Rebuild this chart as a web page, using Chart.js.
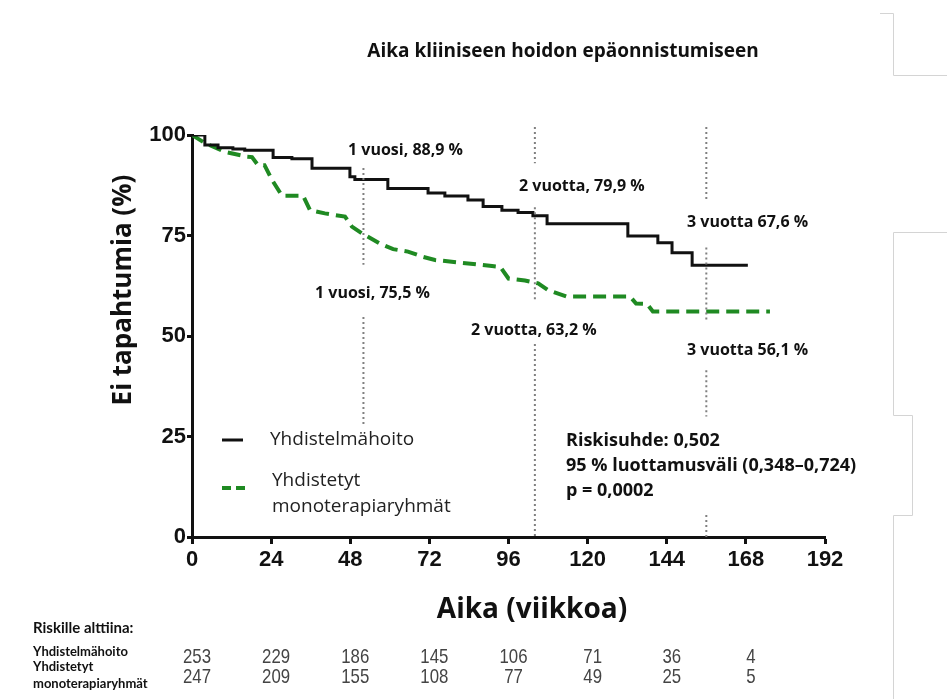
<!DOCTYPE html>
<html>
<head>
<meta charset="utf-8">
<script src="https://cdn.jsdelivr.net/npm/chart.js@4"></script>
<style>
  body { margin: 0; background: #fff; }
  canvas { display: block; }
</style>
</head>
<body>
<canvas id="c" width="947" height="699"></canvas>
<script>
// Kaplan-Meier data (weeks, % without event)
const comboWeeks = [0, 3.9, 7.9, 12.4, 16, 24.6, 30.3, 36.4, 47.9, 49.4, 59.4, 71.6, 76.7, 83.7, 88.3, 94, 98.9, 103.4, 107.7, 132.2, 141.3, 145.6, 151.7, 168.6]
const comboSurv  = [100, 97.5, 96.8, 96.5, 96.2, 94.4, 94.1, 91.7, 89.6, 88.9, 86.7, 85.6, 84.8, 83.8, 82.2, 81.3, 80.7, 79.9, 77.9, 74.9, 73.2, 70.7, 67.6, 67.6]

const monoWeeks = [0, 3.9, 10, 16.7, 18.2, 20, 22, 24.3, 27.3, 33.7, 35.8, 40.3, 46.4, 48.5, 52, 57, 61, 65.5, 70, 73.7, 82, 91, 93.5, 96, 101, 105, 108, 113.7, 132.9, 134.7, 138, 139.8, 175.3]
const monoSurv  = [100, 98, 95.8, 94.6, 94.5, 92.5, 92.5, 88.8, 84.9, 84.9, 81.3, 80.5, 79.7, 77.2, 75.3, 73, 71.6, 71, 69.7, 68.9, 68.2, 67.4, 67.2, 64.3, 63.8, 63.1, 61.4, 59.8, 59.8, 58.1, 58, 56.1, 56.1]

const xTicks = [0, 24, 48, 72, 96, 120, 144, 168, 192]
const yTicks = [0, 25, 50, 75, 100]

// dotted year markers: [week, from %, to %]
const markers = [
  [52, 91.8, 67.7], [52, 54.7, 28],
  [104, 102, 93], [104, 82, 59], [104, 48, 0],
  [156, 102, 84], [156, 72, 54], [156, 41.5, 30], [156, 5.5, 0]
]

// number at risk
const riskWeeks = [0, 24, 48, 72, 96, 120, 144, 168]
const riskCombo = [253, 229, 186, 145, 106, 71, 36, 4]
const riskMono  = [247, 209, 155, 108, 77, 49, 25, 5]

const toPts = (xs, ys) => xs.map((x, i) => ({x: x, y: ys[i]}))

const OS = '"Open Sans", Lato, sans-serif'
const CAL = 'Lato, "Open Sans", sans-serif'
const ARIAL = '"Liberation Sans", Arial, sans-serif'
const GREEN = '#1f8a22'

function txt(ctx, s, x, y, font, color, align, base) {
  ctx.font = font
  ctx.fillStyle = color || '#111'
  ctx.textAlign = align || 'left'
  ctx.textBaseline = base || 'middle'
  ctx.fillText(s, x, y)
}

// condensed text (for Arial Narrow look)
function txtNarrow(ctx, s, x, y, font, color, sx) {
  ctx.save()
  ctx.translate(x, y)
  ctx.scale(sx, 1)
  txt(ctx, s, 0, 0, font, color, 'center')
  ctx.restore()
}

const extras = {
  id: 'extras',
  afterDraw(chart) {
    const ctx = chart.ctx
    const xs = chart.scales.x, ys = chart.scales.y
    ctx.save()

    // dotted markers
    ctx.strokeStyle = '#808080'
    ctx.lineWidth = 2
    ctx.setLineDash([2, 3])
    markers.forEach(m => {
      const x = xs.getPixelForValue(m[0])
      ctx.beginPath()
      ctx.moveTo(x, ys.getPixelForValue(m[1]))
      ctx.lineTo(x, ys.getPixelForValue(m[2]))
      ctx.stroke()
    })
    ctx.setLineDash([])

    // title and axis titles
    txt(ctx, 'Aika kliiniseen hoidon epäonnistumiseen', 563, 52, 'bold 19px ' + OS, '#111', 'center')
    txt(ctx, 'Aika (viikkoa)', 532, 610, 'bold 28px ' + OS, '#111', 'center')
    ctx.save()
    ctx.translate(124, 290)
    ctx.rotate(-Math.PI / 2)
    txt(ctx, 'Ei tapahtumia (%)', 0, 0, 'bold 26px ' + OS, '#111', 'center')
    ctx.restore()

    // year annotations
    const af = 'bold 16px ' + OS
    txt(ctx, '1 vuosi, 88,9 %', 348, 150, af)
    txt(ctx, '2 vuotta, 79,9 %', 519, 186, af)
    txt(ctx, '3 vuotta 67,6 %', 687, 222, af)
    txt(ctx, '1 vuosi, 75,5 %', 315, 293, af)
    txt(ctx, '2 vuotta, 63,2 %', 471, 330, af)
    txt(ctx, '3 vuotta 56,1 %', 687, 350, af)

    // stats
    const sf = 'bold 18px ' + OS
    txt(ctx, 'Riskisuhde: 0,502', 566, 441, sf)
    txt(ctx, '95 % luottamusväli (0,348–0,724)', 566, 466, sf)
    txt(ctx, 'p = 0,0002', 566, 491, sf)

    // legend
    ctx.strokeStyle = '#111'
    ctx.lineWidth = 3
    ctx.beginPath(); ctx.moveTo(222, 440); ctx.lineTo(243, 440); ctx.stroke()
    ctx.strokeStyle = GREEN
    ctx.lineWidth = 4
    ctx.beginPath(); ctx.moveTo(222, 488); ctx.lineTo(231, 488); ctx.moveTo(236, 488); ctx.lineTo(245, 488); ctx.stroke()
    const lf = '19px ' + OS
    txt(ctx, 'Yhdistelmähoito', 270, 440, lf, '#222')
    txt(ctx, 'Yhdistetyt', 272, 481, lf, '#222')
    txt(ctx, 'monoterapiaryhmät', 272, 507, lf, '#222')

    // number at risk table
    txt(ctx, 'Riskille alttiina:', 33, 628, 'bold 15px ' + CAL)
    const rf = 'bold 13px ' + CAL
    txt(ctx, 'Yhdistelmähoito', 33, 652, rf)
    txt(ctx, 'Yhdistetyt', 33, 667, rf)
    txt(ctx, 'monoterapiaryhmät', 33, 684, rf)
    const nf = '21px ' + ARIAL
    riskWeeks.forEach((w, i) => {
      const x = xs.getPixelForValue(w) + 5
      txtNarrow(ctx, String(riskCombo[i]), x, 657, nf, '#444', 0.8)
      txtNarrow(ctx, String(riskMono[i]), x, 677, nf, '#444', 0.8)
    })

    // page frame remnants at the right edge
    ctx.strokeStyle = '#d4d4d4'
    ctx.lineWidth = 1
    ctx.beginPath()
    ctx.moveTo(880, 13.5); ctx.lineTo(893.5, 13.5); ctx.lineTo(893.5, 75.5); ctx.lineTo(947, 75.5)
    ctx.moveTo(947, 232.5); ctx.lineTo(893.5, 232.5); ctx.lineTo(893.5, 415.5); ctx.lineTo(912.5, 415.5)
    ctx.lineTo(912.5, 515.5); ctx.lineTo(893.5, 515.5); ctx.lineTo(893.5, 699)
    ctx.stroke()

    ctx.restore()
  }
}

const tickFont = {family: ARIAL, size: 22, weight: 'bold'}

new Chart(document.getElementById('c').getContext('2d'), {
  type: 'line',
  data: {
    datasets: [{
      label: 'Yhdistelmähoito',
      data: toPts(comboWeeks, comboSurv),
      borderColor: '#111',
      borderWidth: 3,
      stepped: 'before',
      pointRadius: 0,
      fill: false
    }, {
      label: 'Yhdistetyt monoterapiaryhmät',
      data: toPts(monoWeeks, monoSurv),
      borderColor: GREEN,
      borderWidth: 4,
      borderDash: [13, 7],
      tension: 0,
      pointRadius: 0,
      fill: false
    }]
  },
  options: {
    responsive: false,
    animation: false,
    layout: {padding: {left: 0, top: 135, right: 122, bottom: 122}},
    plugins: {legend: {display: false}, tooltip: {enabled: false}},
    scales: {
      x: {
        type: 'linear', min: 0, max: 192,
        afterBuildTicks: s => { s.ticks = xTicks.map(v => ({value: v})) },
        ticks: {color: '#111', font: tickFont, padding: 3, maxRotation: 0},
        grid: {drawOnChartArea: false, drawTicks: true, tickLength: 7, tickColor: '#111', tickWidth: 3},
        border: {color: '#111', width: 3},
        afterFit: s => { s.height = 40 }
      },
      y: {
        min: 0, max: 100,
        afterBuildTicks: s => { s.ticks = yTicks.map(v => ({value: v})) },
        ticks: {color: '#111', font: tickFont, padding: 1},
        grid: {drawOnChartArea: false, drawTicks: true, tickLength: 5, tickColor: '#111', tickWidth: 3},
        border: {color: '#111', width: 3},
        afterFit: s => { s.width = 192 }
      }
    }
  },
  plugins: [extras]
})
</script>
</body>
</html>
